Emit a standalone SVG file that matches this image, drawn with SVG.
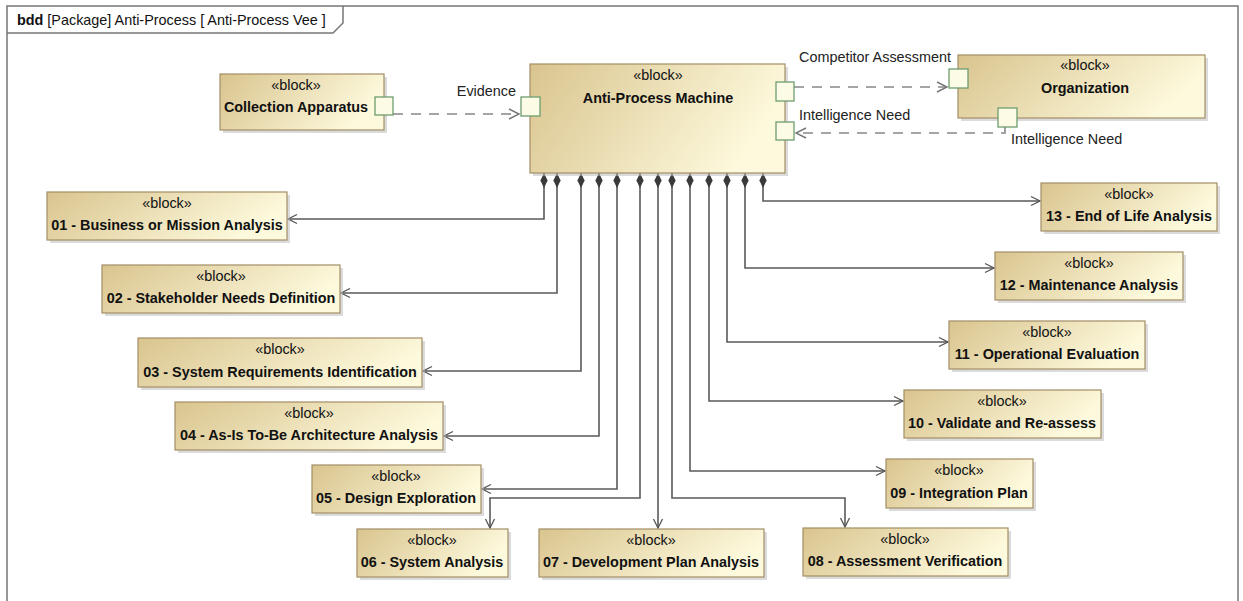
<svg xmlns="http://www.w3.org/2000/svg" width="1243" height="601" viewBox="0 0 1243 601">
<defs>
<linearGradient id="blk" x1="0" y1="0" x2="1" y2="0.3">
<stop offset="0" stop-color="#d9c48e"/>
<stop offset="1" stop-color="#fdf9dc"/>
</linearGradient>
<marker id="dia" markerUnits="userSpaceOnUse" markerWidth="16" markerHeight="8" viewBox="0 -4 16 8" refX="0" refY="0" orient="auto">
<polygon points="0,0 7.5,-3.6 15,0 7.5,3.6" fill="#3a3a3a"/>
</marker>
<marker id="arr" markerUnits="userSpaceOnUse" markerWidth="12" markerHeight="12" viewBox="-11 -6 12 12" refX="0" refY="0" orient="auto">
<path d="M-9,-4.5 L0,0 L-9,4.5" fill="none" stroke="#555" stroke-width="1.3"/>
</marker>
<marker id="darr" markerUnits="userSpaceOnUse" markerWidth="14" markerHeight="12" viewBox="-12 -6 14 12" refX="0" refY="0" orient="auto">
<path d="M-10,-5 L0,0 L-10,5" fill="none" stroke="#777" stroke-width="1.4"/>
</marker>
</defs>
<style>
.frame{fill:#fff;stroke:#777;stroke-width:1.5}
.hdr{font-family:"Liberation Sans",Arial,sans-serif;font-size:14.4px;fill:#111}
.box{fill:url(#blk);stroke:#a38e66;stroke-width:1.2}
.shd{fill:#bdbdbd;opacity:0.55}
.st{font-family:"Liberation Sans",Arial,sans-serif;font-size:14.4px;fill:#111;text-anchor:middle}
.nm{font-family:"Liberation Sans",Arial,sans-serif;font-size:14.4px;font-weight:bold;fill:#111;text-anchor:middle}
.lbl{font-family:"Liberation Sans",Arial,sans-serif;font-size:14.4px;fill:#222}
.port{fill:#fcfce6;stroke:#6e9d6e;stroke-width:1.3}
.comp{fill:none;stroke:#5a5a5a;stroke-width:1.6;marker-start:url(#dia);marker-end:url(#arr)}
.dep{fill:none;stroke:#888;stroke-width:1.6;stroke-dasharray:10,8}
</style>
<rect width="1243" height="601" fill="#fff"/>
<g id="frame">
<rect class="frame" x="7" y="6" width="1231" height="620"/>
<path d="M7,33 H333 L343,23 V6" fill="none" stroke="#777" stroke-width="1.5"/>
<text class="hdr" x="17" y="25"><tspan font-weight="bold">bdd</tspan>  [Package] Anti-Process [ Anti-Process Vee ]</text>
</g>
<g id="connectors">
<path class="dep" d="M393,114 H519" marker-end="url(#darr)"/>
<path class="dep" d="M794,87 H947" marker-end="url(#darr)"/>
<path class="dep" d="M1005,127 V133 H796" marker-end="url(#darr)"/>
<path class="comp" d="M544,173 V219 H288"/>
<path class="comp" d="M557,173 V293 H341"/>
<path class="comp" d="M581,173 V371 H423"/>
<path class="comp" d="M599,173 V436 H444"/>
<path class="comp" d="M617,173 V489 H482"/>
<path class="comp" d="M640,173 V498 H490 V528"/>
<path class="comp" d="M658,173 V528"/>
<path class="comp" d="M672,173 V498 H845 V527"/>
<path class="comp" d="M690,173 V471 H885"/>
<path class="comp" d="M709,173 V401 H903"/>
<path class="comp" d="M727,173 V342 H948"/>
<path class="comp" d="M745,173 V268 H994"/>
<path class="comp" d="M763,173 V201 H1040"/>
</g>
<g id="collection">
<rect class="shd" x="223" y="77" width="164" height="56"/>
<rect class="box" x="220" y="74" width="164" height="56"/>
<text class="st" x="296" y="90">«block»</text>
<text class="nm" x="296" y="112">Collection Apparatus</text>
<rect class="port" x="375" y="97" width="18" height="18"/>
</g>
<g id="machine">
<rect class="shd" x="533" y="67" width="255" height="109"/>
<rect class="box" x="530" y="64" width="255" height="109"/>
<text class="st" x="658" y="80">«block»</text>
<text class="nm" x="658" y="103">Anti-Process Machine</text>
<rect class="port" x="521" y="97" width="19" height="19"/>
<rect class="port" x="776" y="82" width="18" height="19"/>
<rect class="port" x="776" y="122" width="18" height="18"/>
<text class="lbl" x="516" y="96" text-anchor="end">Evidence</text>
<text class="lbl" x="799" y="62">Competitor Assessment</text>
<text class="lbl" x="799" y="120">Intelligence Need</text>
</g>
<g id="organization">
<rect class="shd" x="961" y="58" width="247" height="63"/>
<rect class="box" x="958" y="55" width="247" height="63"/>
<text class="st" x="1085" y="70">«block»</text>
<text class="nm" x="1085" y="93">Organization</text>
<rect class="port" x="949" y="69" width="19" height="19"/>
<rect class="port" x="998" y="108" width="19" height="19"/>
<text class="lbl" x="1011" y="144">Intelligence Need</text>
</g>
<g id="b01">
<rect class="shd" x="50" y="195" width="240" height="48"/>
<rect class="box" x="47" y="192" width="240" height="48"/>
<text class="st" x="167" y="208">«block»</text>
<text class="nm" x="167" y="230">01 - Business or Mission Analysis</text>
</g>
<g id="b02">
<rect class="shd" x="105" y="268" width="238" height="48"/>
<rect class="box" x="102" y="265" width="238" height="48"/>
<text class="st" x="221" y="281">«block»</text>
<text class="nm" x="221" y="303">02 - Stakeholder Needs Definition</text>
</g>
<g id="b03">
<rect class="shd" x="141" y="341" width="284" height="49"/>
<rect class="box" x="138" y="338" width="284" height="49"/>
<text class="st" x="280" y="354">«block»</text>
<text class="nm" x="280" y="377">03 - System Requirements Identification</text>
</g>
<g id="b04">
<rect class="shd" x="178" y="405" width="268" height="48"/>
<rect class="box" x="175" y="402" width="268" height="48"/>
<text class="st" x="309" y="418">«block»</text>
<text class="nm" x="309" y="440">04 - As-Is To-Be Architecture Analysis</text>
</g>
<g id="b05">
<rect class="shd" x="315" y="468" width="169" height="48"/>
<rect class="box" x="312" y="465" width="169" height="48"/>
<text class="st" x="396" y="481">«block»</text>
<text class="nm" x="396" y="503">05 - Design Exploration</text>
</g>
<g id="b06">
<rect class="shd" x="360" y="532" width="151" height="48"/>
<rect class="box" x="357" y="529" width="151" height="48"/>
<text class="st" x="432" y="545">«block»</text>
<text class="nm" x="432" y="567">06 - System Analysis</text>
</g>
<g id="b07">
<rect class="shd" x="542" y="532" width="225" height="48"/>
<rect class="box" x="539" y="529" width="225" height="48"/>
<text class="st" x="651" y="545">«block»</text>
<text class="nm" x="651" y="567">07 - Development Plan Analysis</text>
</g>
<g id="b08">
<rect class="shd" x="806" y="531" width="205" height="48"/>
<rect class="box" x="803" y="528" width="205" height="48"/>
<text class="st" x="905" y="544">«block»</text>
<text class="nm" x="905" y="566">08 - Assessment Verification</text>
</g>
<g id="b09">
<rect class="shd" x="889" y="462" width="147" height="49"/>
<rect class="box" x="886" y="459" width="147" height="49"/>
<text class="st" x="959" y="475">«block»</text>
<text class="nm" x="959" y="498">09 - Integration Plan</text>
</g>
<g id="b10">
<rect class="shd" x="907" y="393" width="197" height="48"/>
<rect class="box" x="904" y="390" width="197" height="48"/>
<text class="st" x="1002" y="406">«block»</text>
<text class="nm" x="1002" y="428">10 - Validate and Re-assess</text>
</g>
<g id="b11">
<rect class="shd" x="952" y="324" width="196" height="48"/>
<rect class="box" x="949" y="321" width="196" height="48"/>
<text class="st" x="1047" y="337">«block»</text>
<text class="nm" x="1047" y="359">11 - Operational Evaluation</text>
</g>
<g id="b12">
<rect class="shd" x="998" y="255" width="188" height="48"/>
<rect class="box" x="995" y="252" width="188" height="48"/>
<text class="st" x="1089" y="268">«block»</text>
<text class="nm" x="1089" y="290">12 - Maintenance Analysis</text>
</g>
<g id="b13">
<rect class="shd" x="1044" y="186" width="176" height="48"/>
<rect class="box" x="1041" y="183" width="176" height="48"/>
<text class="st" x="1129" y="199">«block»</text>
<text class="nm" x="1129" y="221">13 - End of Life Analysis</text>
</g>
</svg>
